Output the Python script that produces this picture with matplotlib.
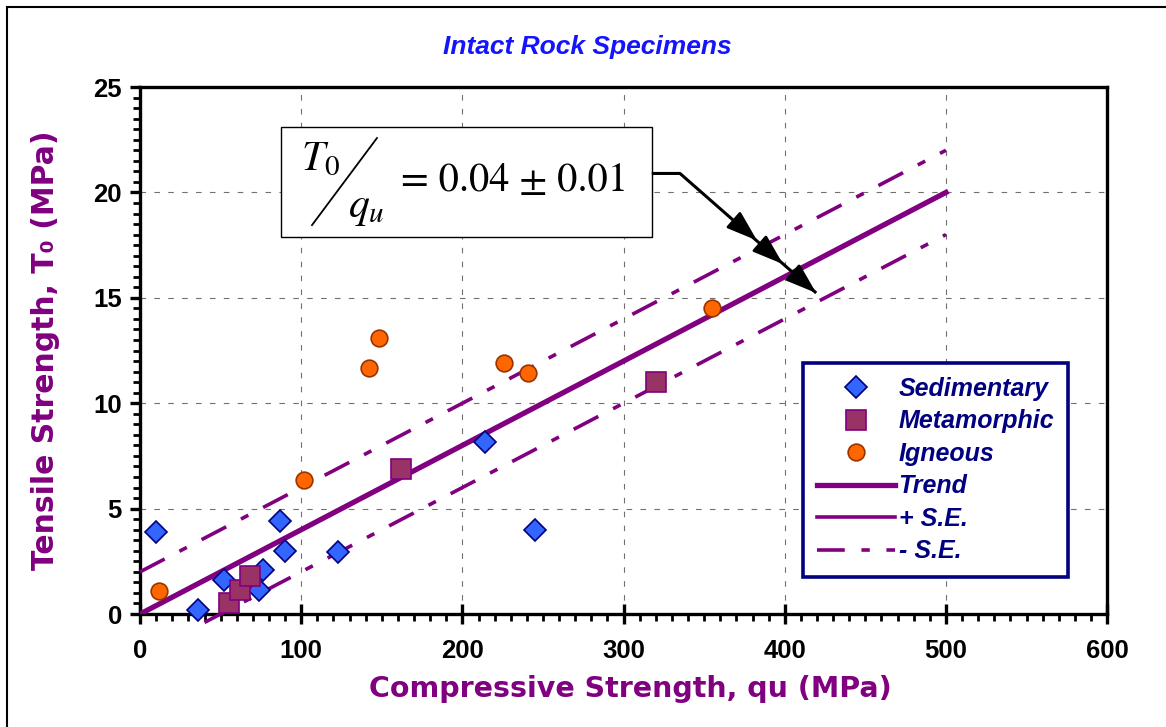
import numpy as np
import matplotlib
matplotlib.use("Agg")
import matplotlib.pyplot as plt
from matplotlib.lines import Line2D
from matplotlib.patches import Rectangle
from matplotlib.ticker import MultipleLocator

# ---- data ----
sed_qu = [10, 36, 52, 74, 76, 87, 90, 123, 214, 245]
sed_t0 = [3.9, 0.2, 1.6, 1.15, 2.1, 4.4, 3.0, 2.95, 8.15, 4.0]

met_qu = [55, 62, 68, 162, 320]
met_t0 = [0.5, 1.15, 1.8, 6.9, 11.0]

ign_qu = [12, 102, 142, 148, 226, 241, 355]
ign_t0 = [1.1, 6.35, 11.65, 13.1, 11.9, 11.45, 14.5]

ratio = 0.04
se = 2.0
trend_qu = [0, 500]
upper_qu = [0, 500]
lower_qu = [40, 500]

xticks = [0, 100, 200, 300, 400, 500, 600]
yticks = [0, 5, 10, 15, 20, 25]

purple = '#800080'
navy = '#000080'

plt.rcParams['lines.scale_dashes'] = False

fig = plt.figure(figsize=(11.66, 7.27), dpi=100)
ax = fig.add_axes([0.1201, 0.1554, 0.8294, 0.7249])

# outer frame of the figure
fig.patches.append(Rectangle((0.006, -0.02), 1.05, 1.0104, transform=fig.transFigure,
                             fill=False, edgecolor='black', lw=1.5))

sd = (0, (20, 12, 6, 12))
ax.plot(trend_qu, [ratio * q for q in trend_qu], color=purple, lw=3.8, zorder=3)
ax.plot(upper_qu, [ratio * q + se for q in upper_qu], color=purple, lw=2.6,
        linestyle=sd, zorder=3, clip_on=False)
ax.plot(lower_qu, [ratio * q - se for q in lower_qu], color=purple, lw=2.6,
        linestyle=sd, zorder=3, clip_on=False)

ax.plot(sed_qu, sed_t0, 'D', ms=11, mfc='#3366FF', mec=navy, mew=1.2, zorder=5, clip_on=False)
ax.plot(met_qu, met_t0, 's', ms=14, mfc='#993366', mec=purple, mew=1.2, zorder=5, clip_on=False)
ax.plot(ign_qu, ign_t0, 'o', ms=12, mfc='#FF6600', mec='#993300', mew=1.2, zorder=5, clip_on=False)

ax.set_xlim(0, 600)
ax.set_ylim(0, 25)
ax.set_xticks(xticks)
ax.set_yticks(yticks)
ax.xaxis.set_minor_locator(MultipleLocator(10))
ax.yaxis.set_minor_locator(MultipleLocator(0.5))
ax.grid(True, which='major', color='#707070', linestyle=(0, (4, 6)), lw=0.8)
ax.set_axisbelow(True)

for s in ax.spines.values():
    s.set_linewidth(2.4)
ax.tick_params(axis='x', which='major', direction='inout', length=14, width=2.4, pad=11)
ax.tick_params(axis='y', which='major', direction='out', length=7, width=2.4, pad=6)
ax.tick_params(which='minor', direction='out', length=5, width=2)
for lab in ax.get_xticklabels() + ax.get_yticklabels():
    lab.set_fontfamily('Liberation Sans')
    lab.set_fontweight('bold')
    lab.set_fontsize(18.5)

ax.set_title('Intact Rock Specimens', color='#1414FF', fontsize=19, fontweight='bold',
             fontstyle='italic', fontfamily='Liberation Sans', pad=24, x=0.463)
ax.set_xlabel('Compressive Strength, qu (MPa)', color=purple, fontsize=20.5, fontweight='bold',
              fontfamily='DejaVu Sans')
ax.set_ylabel('Tensile Strength, T₀ (MPa)', color=purple, fontsize=21.5, fontweight='bold',
              fontfamily='DejaVu Sans', va='center')
ax.xaxis.set_label_coords(0.507, -0.115)
ax.yaxis.set_label_coords(-0.098, 0.5)

# annotation box with T0/qu
ax.add_patch(Rectangle((87.5, 17.9), 230, 5.2, facecolor='white', edgecolor='black',
                       lw=1.0, zorder=6))
ax.text(100, 21.05, r'$T_0$', fontsize=30, math_fontfamily='stix', zorder=7)
ax.text(129, 18.85, r'$q_u$', fontsize=30, math_fontfamily='stix', zorder=7)
ax.plot([106.7, 147], [18.45, 22.58], color='black', lw=1.3, zorder=7)
ax.text(162, 20.55, '= 0.04 ± 0.01', fontsize=29, fontfamily='STIXGeneral',
        va='center', zorder=7)

# arrow from box to the three lines
path_x = [317.5, 335, 419.5]
path_y = [20.9, 20.9, 15.23]
ax.plot(path_x, path_y, color='black', lw=2.2, zorder=7, solid_capstyle='butt')
tips = [(382.8, 17.72), (398.9, 16.6), (419.5, 15.23)]
slope = (path_y[2] - path_y[1]) / (path_x[2] - path_x[1])
for tx, ty in tips:
    sx = tx - 12
    ax.annotate('', xy=(tx, ty), xytext=(sx, ty - slope * 12),
                arrowprops=dict(arrowstyle='-|>,head_length=1.9,head_width=0.65',
                                color='black', lw=2, shrinkA=0, shrinkB=0),
                zorder=8)

handles = [
    Line2D([], [], marker='D', ls='none', ms=11, mfc='#3366FF', mec=navy, mew=1.2),
    Line2D([], [], marker='s', ls='none', ms=14, mfc='#993366', mec=purple, mew=1.2),
    Line2D([], [], marker='o', ls='none', ms=12, mfc='#FF6600', mec='#993300', mew=1.2),
    Line2D([], [], color=purple, lw=3.8),
    Line2D([], [], color=purple, lw=2.6),
    Line2D([], [], color=purple, lw=2.6, linestyle=sd),
]
labels = ['Sedimentary', 'Metamorphic', 'Igneous', 'Trend', '+ S.E.', '- S.E.']
leg = ax.legend(handles, labels, loc='upper left', bbox_to_anchor=(0.686, 0.476),
                borderaxespad=0, frameon=True, fancybox=False, handlelength=3.1,
                handletextpad=0.16, labelspacing=0.34, borderpad=0.55,
                prop={'family': 'Liberation Sans', 'weight': 'bold', 'style': 'italic', 'size': 18})
leg.get_frame().set_edgecolor(navy)
leg.get_frame().set_linewidth(2.6)
leg.get_frame().set_alpha(1)
leg.set_zorder(10)
for t in leg.get_texts():
    t.set_color(navy)

fig.savefig('out.png', dpi=100)
